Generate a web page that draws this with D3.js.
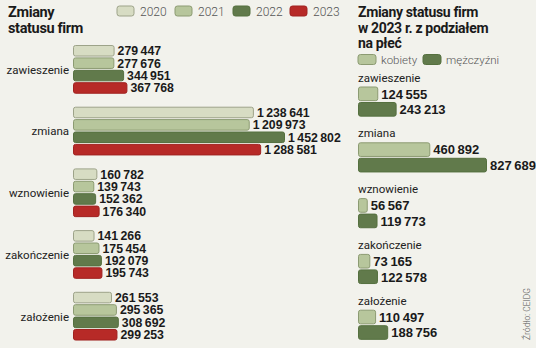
<!DOCTYPE html>
<html><head><meta charset="utf-8">
<script src="https://cdn.jsdelivr.net/npm/d3@7"></script>
<style>
html,body{margin:0;padding:0;background:#f2f2ec;}
svg{display:block;}
.t{font-family:Roboto,"DejaVu Sans",sans-serif;font-weight:700;fill:#1a1a1a;letter-spacing:-0.35px;}
.lab{font-family:Roboto,"DejaVu Sans",sans-serif;fill:#222;}
.num{font-family:"Liberation Sans",Arial,sans-serif;font-weight:700;fill:#1a1a1a;}
.leg{font-family:Roboto,"DejaVu Sans",sans-serif;fill:#555;font-weight:300;}
</style></head><body>
<script>
const categories = ["zawieszenie","zmiana","wznowienie","zakończenie","założenie"];
const years = ["2020","2021","2022","2023"];
const v2020 = [279447,1238641,160782,141266,261553];
const v2021 = [277676,1209973,139743,175454,295365];
const v2022 = [344951,1452802,152362,192079,308692];
const v2023 = [367768,1288581,176340,195743,299253];
const genders = ["kobiety","mężczyźni"];
const kobiety = [124555,460892,56567,73165,110497];
const mezczyzni = [243213,827689,119773,122578,188756];

const yearFill = {"2020":"#d7dcc3","2021":"#b7c69c","2022":"#617a4b","2023":"#b72a27"};
const yearStroke = {"2020":"#9da389","2021":"#8c9b72","2022":"#55703f","2023":"#a02220"};
const gFill = {"kobiety":"#b7c69c","mężczyźni":"#617a4b"};
const gStroke = {"kobiety":"#8c9b72","mężczyźni":"#55703f"};

const fmtS = v => String(v).replace(/\B(?=(\d{3})+(?!\d))/g, "\u2009");

const W=536,H=348;
const svg = d3.select("body").append("svg").attr("width",W).attr("height",H);
svg.append("rect").attr("width",W).attr("height",H).attr("fill","#f2f2ec");

// Left title
svg.append("text").attr("class","t").attr("x",8).attr("y",17).attr("font-size",14.5).text("Zmiany");
svg.append("text").attr("class","t").attr("x",8).attr("y",33).attr("font-size",14.5).text("statusu firm");

// Left legend
const legX = [117,175,233,290];
years.forEach((y,i)=>{
  svg.append("rect").attr("x",legX[i]).attr("y",6).attr("width",17).attr("height",10).attr("rx",2.5)
    .attr("fill",yearFill[y]).attr("stroke",yearStroke[y]);
  svg.append("text").attr("class","leg").attr("x",legX[i]+23).attr("y",15.5).attr("font-size",12).text(y);
});

// Left chart
const valsByYear = {"2020":v2020,"2021":v2021,"2022":v2022,"2023":v2023};
const xL = d3.scaleLinear().domain([0,1452802]).range([73,284]);
const yL = d3.scaleBand().domain(categories).range([45.5,45.5+5*61.7]);
const yLi = d3.scaleBand().domain(years).range([0,12.4*3.85]).paddingInner(0.15);
categories.forEach((c,ci)=>{
  const g = svg.append("g").attr("transform",`translate(0,${yL(c)})`);
  years.forEach(y=>{
    const v = valsByYear[y][ci];
    g.append("rect").attr("x",xL(0)+0.5).attr("y",yLi(y)).attr("width",xL(v)-xL(0)).attr("height",yLi.bandwidth())
      .attr("rx",2).attr("fill",yearFill[y]).attr("stroke",yearStroke[y]).attr("stroke-width",1);
    g.append("text").attr("class","num").attr("x",xL(v)+4).attr("y",yLi(y)+yLi.bandwidth()/2+4.4)
      .attr("font-size",12.3).text(fmtS(v));
  });
  g.append("text").attr("class","lab").attr("x",69).attr("y",yLi("2022")-1+4.5).attr("text-anchor","end")
    .attr("font-size",11.5).text(c);
});

// Right title
["Zmiany statusu firm","w 2023 r. z podziałem","na płeć"].forEach((t,i)=>{
  svg.append("text").attr("class","t").attr("x",358).attr("y",17+i*15.5).attr("font-size",14).text(t);
});
// Right legend
const rLegX = [358,423];
genders.forEach((gname,i)=>{
  svg.append("rect").attr("x",rLegX[i]).attr("y",54.5).attr("width",18).attr("height",10).attr("rx",2.5)
    .attr("fill",gFill[gname]).attr("stroke",gStroke[gname]);
  svg.append("text").attr("class","leg").attr("x",rLegX[i]+23).attr("y",63.5).attr("font-size",11.5).text(gname);
});

const valsByG = {"kobiety":kobiety,"mężczyźni":mezczyzni};
const xR = d3.scaleLinear().domain([0,827689]).range([358,486]);
const yR = d3.scaleBand().domain(categories).range([87,87+5*55.8]);
const yRi = d3.scaleBand().domain(genders).range([0,15.5*1.88]).paddingInner(0.12);
categories.forEach((c,ci)=>{
  const g = svg.append("g").attr("transform",`translate(0,${yR(c)})`);
  g.append("text").attr("class","lab").attr("x",358).attr("y",-5.5).attr("font-size",11.5).text(c);
  genders.forEach(gn=>{
    const v = valsByG[gn][ci];
    g.append("rect").attr("x",xR(0)+0.5).attr("y",yRi(gn)).attr("width",xR(v)-xR(0)).attr("height",yRi.bandwidth())
      .attr("rx",2).attr("fill",gFill[gn]).attr("stroke",gStroke[gn]).attr("stroke-width",1);
    g.append("text").attr("class","num").attr("x",xR(v)+4).attr("y",yRi(gn)+yRi.bandwidth()/2+4.8)
      .attr("font-size",13).text(fmtS(v));
  });
});

// Source
svg.append("text").attr("class","leg").attr("transform","translate(530,340) rotate(-90)")
  .attr("font-size",8.5).attr("fill","#777").text("Źródło: CEIDG");
</script>
</body></html>
